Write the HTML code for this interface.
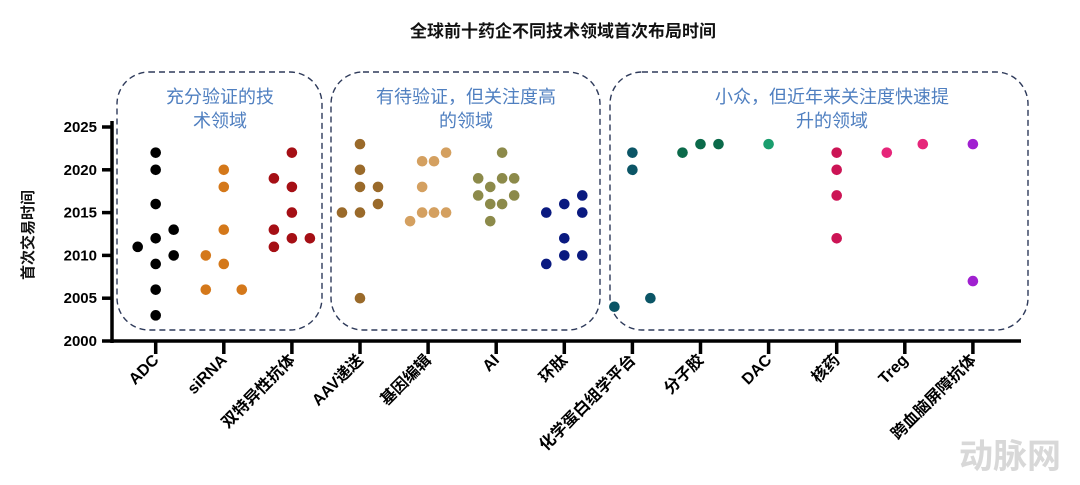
<!DOCTYPE html>
<html><head><meta charset="utf-8">
<style>
html,body{margin:0;padding:0;background:#fff;}
svg{display:block;font-family:"Liberation Sans","Noto Sans CJK SC",sans-serif;}
</style></head>
<body>
<svg id="chart" width="1080" height="485" viewBox="0 0 1080 485">
<text x="563" y="37" text-anchor="middle" font-size="17" font-weight="bold" fill="#111">全球前十药企不同技术领域首次布局时间</text>
<g fill="none" stroke="#2e3a5a" stroke-width="1.4" stroke-dasharray="6,4">
<rect x="117" y="72" width="205" height="258" rx="32"/>
<rect x="331" y="72" width="269" height="258" rx="32"/>
<rect x="610" y="72" width="418" height="258" rx="32"/>
</g>
<g font-size="18" fill="#4f7fc0" text-anchor="middle">
<text x="220" y="103">充分验证的技</text>
<text x="220" y="127">术领域</text>
<text x="466" y="103">有待验证，但关注度高</text>
<text x="466" y="127">的领域</text>
<text x="832" y="103">小众，但近年来关注度快速提</text>
<text x="832" y="127">升的领域</text>
</g>
<text transform="translate(33,235) rotate(-90)" text-anchor="middle" font-size="15" font-weight="bold" fill="#111">首次交易时间</text>
<g id="axes"></g>
<g id="dots"></g>
<text x="1010" y="468" text-anchor="middle" font-size="34" font-weight="bold" fill="#d8d8d8">动脉网</text>
</svg>
<script>
const categories=["ADC","siRNA","双特异性抗体","AAV递送","基因编辑","AI","环肽","化学蛋白组学平台","分子胶","DAC","核药","Treg","跨血脑屏障抗体"];
const colors=["#000000","#d4781a","#a50f15","#9a6a2a","#d4a060","#8c8a4a","#0a1a80","#0b5566","#0b6a4a","#1a9e6e","#cc1455","#e6267a","#a020d0"];
const yTicks=[2000,2005,2010,2015,2020,2025];
// each point: category index, horizontal jitter step, year
const pointCat=[0,0,0,0,0,0,0,0,0,0, 1,1,1,1,1,1,1, 2,2,2,2,2,2,2,2, 3,3,3,3,3,3,3,3, 4,4,4,4,4,4,4,4,4, 5,5,5,5,5,5,5,5,5,5, 6,6,6,6,6,6,6,6, 7,7,7,7, 8,8,8, 9, 10,10,10,10, 11,11, 12,12];
const pointJit=[-1,0,0,0,0,0,0,0,1,1, -1,-1,0,0,0,0,1, -1,-1,-1,0,0,0,0,1, -1,0,0,0,0,0,1,1, -1,-0.33,-0.33,-0.33,0.33,0.33,0.33,1,1, -1,-1,-0.33,-0.33,-0.33,0.33,0.33,0.33,1,1, -1,-1,0,0,0,1,1,1, -1,0,0,1, -1,0,1, 0, 0,0,0,0, -1,1, 0,0];
const pointYear=[2011,2022,2020,2016,2012,2009,2006,2003,2013,2010, 2010,2006,2020,2018,2013,2009,2006, 2019,2013,2011,2022,2018,2015,2012,2012, 2015,2023,2020,2018,2015,2005,2018,2016, 2014,2021,2018,2015,2021,2015,2015,2022,2015, 2019,2017,2018,2016,2014,2022,2019,2016,2019,2017, 2015,2009,2016,2012,2010,2017,2015,2010, 2004,2022,2020,2005, 2022,2023,2023, 2023, 2022,2020,2017,2012, 2022,2023, 2023,2007];
const NS="http://www.w3.org/2000/svg";
const x0=155.7,xStep=68.1,jStep=18;
const yScale=v=>341-(v-2000)*8.56;
const xScale=i=>x0+i*xStep;
const axes=document.getElementById('axes');
function mk(tag,attrs,parent){const e=document.createElementNS(NS,tag);for(const k in attrs)e.setAttribute(k,attrs[k]);parent.appendChild(e);return e;}
let l=mk('line',{x1:112,y1:yScale(2025)-6,x2:112,y2:343,stroke:'#000','stroke-width':3.5},axes);


l=mk('line',{x1:110.5,y1:341,x2:1021,y2:341,stroke:'#000','stroke-width':3.5},axes);


yTicks.forEach(v=>{
 const t=mk('line',{x1:102,x2:112,y1:yScale(v),y2:yScale(v),stroke:'#000','stroke-width':3.5},axes);
 
 
 const tx=mk('text',{x:97,y:yScale(v)+5,'text-anchor':'end','font-size':15,'font-weight':'bold',fill:'#000'},axes);
 tx.textContent=v;
 
 
});
categories.forEach((c,i)=>{
 const x=xScale(i);
 const t=mk('line',{x1:x,x2:x,y1:341,y2:354,stroke:'#000','stroke-width':3.5},axes);
 
 
 const tx=mk('text',{transform:`translate(${x+4},${361}) rotate(-45)`,'text-anchor':'end','font-size':16,'font-weight':'bold',fill:'#000'},axes);
 tx.textContent=c;
 
 
});
const dots=document.getElementById('dots');
pointYear.forEach((y,k)=>{
 const ci=pointCat[k];
 const d=mk('circle',{cx:xScale(ci)+pointJit[k]*jStep,cy:yScale(y),r:5.3,fill:colors[ci]},dots);
 
 
});
</script>
</body></html>
